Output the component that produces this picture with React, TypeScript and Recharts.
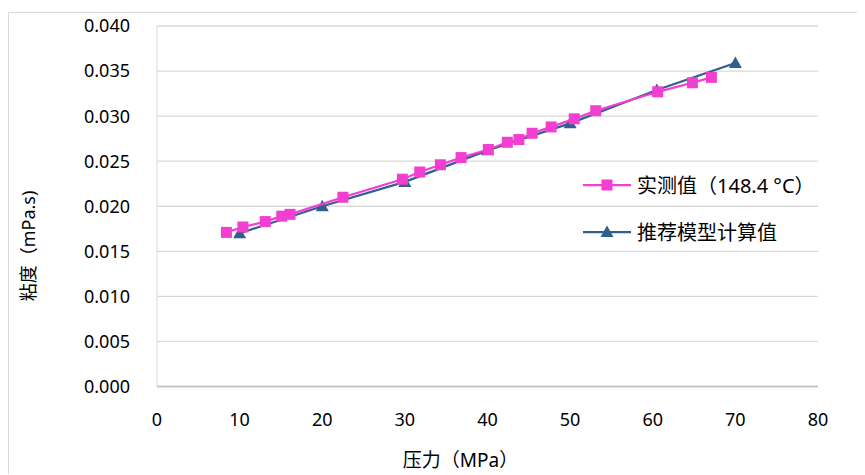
import {
  CartesianGrid,
  Scatter,
  ScatterChart,
  XAxis,
  YAxis,
} from "recharts";

// measured viscosity at 148.4 °C
const measuredPressure = [8.4, 10.4, 13.1, 15.1, 16.1, 22.5, 29.7, 31.8, 34.3, 36.8, 40.1, 42.4, 43.8, 45.4, 47.7, 50.5, 53.1, 60.6, 64.8, 67.1];
const measuredViscosity = [0.0171, 0.0177, 0.0183, 0.0189, 0.0191, 0.021, 0.023, 0.0238, 0.0246, 0.0254, 0.0263, 0.0271, 0.0274, 0.0281, 0.0288, 0.0297, 0.0306, 0.0327, 0.0337, 0.0343];

// recommended model
const modelPressure = [10, 20, 30, 40, 50, 60.5, 70];
const modelViscosity = [0.017, 0.02, 0.0227, 0.0262, 0.0292, 0.0329, 0.0359];

const xTicks = [0, 10, 20, 30, 40, 50, 60, 70, 80];
const yTicks = [0, 0.005, 0.01, 0.015, 0.02, 0.025, 0.03, 0.035, 0.04];

const seriesNames = ["实测值（148.4 °C）", "推荐模型计算值"];
const xTitle = "压力（MPa）";
const yTitle = "粘度（mPa.s)";

const PINK = "#f23fd2";
const BLUE = "#31608f";
const FONT = '"Noto Sans", "Noto Sans CJK SC", sans-serif';

const measuredData = measuredPressure.map((x, i) => ({ x, y: measuredViscosity[i] }));
const modelData = modelPressure.map((x, i) => ({ x, y: modelViscosity[i] }));

function SquareDot(props: any) {
  const { cx, cy } = props;
  return <rect x={cx - 5.5} y={cy - 5.5} width={11} height={11} fill={PINK} />;
}

function TriangleDot(props: any) {
  const { cx, cy } = props;
  return <path d={`M${cx},${cy - 6.5} L${cx + 6.5},${cy + 5} L${cx - 6.5},${cy + 5} Z`} fill={BLUE} />;
}

function XTitle(props: any) {
  const { viewBox } = props;
  const cx = viewBox.x + viewBox.width / 2 - 27;
  const y = viewBox.y + viewBox.height + 40;
  return (
    <text x={cx} y={y} textAnchor="middle" fill="#000" fontSize={19} fontFamily={FONT}>
      {xTitle}
    </text>
  );
}

function LegendBox() {
  const rows = [
    { name: seriesNames[0], color: PINK, marker: <rect x={18.5} y={-5.5} width={11} height={11} fill={PINK} /> },
    { name: seriesNames[1], color: BLUE, marker: <path d="M24,-6.5 L30.5,5 L17.5,5 Z" fill={BLUE} /> },
  ];
  return (
    <div style={{ fontFamily: FONT, fontSize: 20, color: "#000" }}>
      {rows.map((row) => (
        <div key={row.name} style={{ display: "flex", alignItems: "center", height: 47 }}>
          <svg width={48} height={14} style={{ overflow: "visible", marginRight: 6 }}>
            <g transform="translate(0,7)">
              <line x1={0} y1={0} x2={48} y2={0} stroke={row.color} strokeWidth={2.25} />
              {row.marker}
            </g>
          </svg>
          <span style={{ whiteSpace: "nowrap" }}>{row.name}</span>
        </div>
      ))}
    </div>
  );
}

export default function App() {
  return (
    <div
      style={{
        position: "relative",
        marginTop: 4,
        width: 856,
        height: 461,
        borderTop: "1px solid #d9d9d9",
        borderLeft: "1px solid #d9d9d9",
        fontFamily: FONT,
      }}
    >
      <ScatterChart
        width={856}
        height={461}
        margin={{ top: 13, right: 47, bottom: 47.5, left: 48 }}
      >
        <CartesianGrid vertical={false} stroke="#d9d9d9" strokeWidth={1.3} />
        <XAxis
          type="number"
          dataKey="x"
          domain={[0, 80]}
          ticks={xTicks}
          height={40}
          tickLine={false}
          tickMargin={21}
          axisLine={{ stroke: "#bfbfbf", strokeWidth: 1.5 }}
          tick={{ fill: "#000", fontSize: 18, fontFamily: FONT }}
          label={<XTitle />}
        />
        <YAxis
          type="number"
          dataKey="y"
          domain={[0, 0.04]}
          ticks={yTicks}
          width={100}
          tickLine={false}
          tickMargin={21}
          axisLine={{ stroke: "#d9d9d9" }}
          tick={{ fill: "#000", fontSize: 18, fontFamily: FONT }}
          tickFormatter={(v: number) => v.toFixed(3)}
        />
        <Scatter
          name={seriesNames[1]}
          data={modelData}
          line={{ stroke: BLUE, strokeWidth: 2.25 }}
          lineType="joint"
          shape={<TriangleDot />}
          isAnimationActive={false}
        />
        <Scatter
          name={seriesNames[0]}
          data={measuredData}
          line={{ stroke: PINK, strokeWidth: 2.25 }}
          lineType="joint"
          shape={<SquareDot />}
          isAnimationActive={false}
        />
      </ScatterChart>
      <div style={{ position: "absolute", left: 574, top: 148 }}>
        <LegendBox />
      </div>
      <div
        style={{
          position: "absolute",
          left: 19,
          top: 233,
          width: 0,
          height: 0,
        }}
      >
        <div
          style={{
            position: "absolute",
            transform: "translate(-50%, -50%) rotate(-90deg)",
            fontSize: 18,
            lineHeight: "22px",
            whiteSpace: "nowrap",
          }}
        >
          {yTitle}
        </div>
      </div>
    </div>
  );
}
